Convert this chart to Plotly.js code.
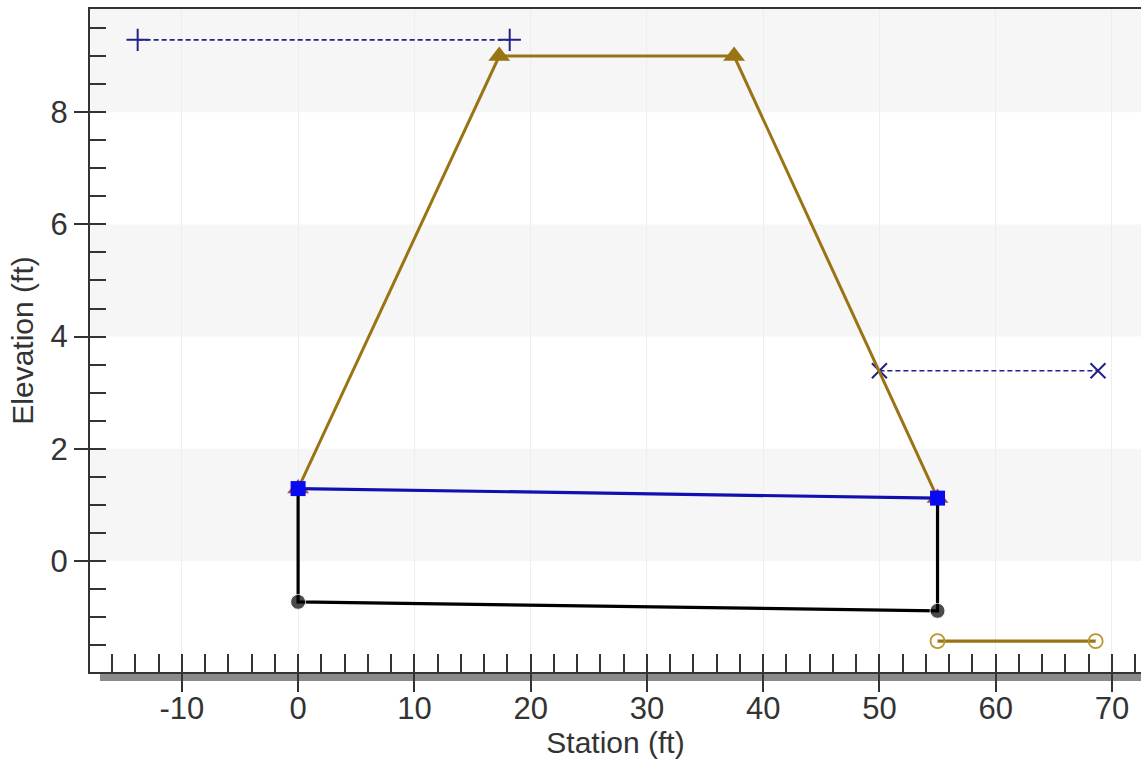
<!DOCTYPE html>
<html>
<head>
<meta charset="utf-8">
<script src="https://cdn.plot.ly/plotly-3.0.1.min.js"></script>
<style>html,body{margin:0;padding:0;background:#fff}#chart{width:1141px;height:762px}</style>
</head>
<body>
<div id="chart"></div>
<script>
// Data
const leftLeveeX = [-13.8, 18.2];
const leftLeveeY = [9.29, 9.29];
const rightLeveeX = [50, 68.8];
const rightLeveeY = [3.39, 3.39];
const embankX = [0, 17.3, 37.5, 55];
const embankY = [1.29, 9.0, 9.0, 1.12];
const culvertTopX = [0, 55];
const culvertTopY = [1.29, 1.12];
const culvertX = [0, 0, 55, 55];
const culvertY = [1.29, -0.73, -0.89, 1.12];
const outletX = [55, 68.6];
const outletY = [-1.43, -1.43];
const bandEdges = [[8, 9.84], [4, 6], [0, 2]];

const xTickVals = [-10, 0, 10, 20, 30, 40, 50, 60, 70];
const xTickText = ['-10', '0', '10', '20', '30', '40', '50', '60', '70'];
const yTickVals = [0, 2, 4, 6, 8];
const yTickText = ['0', '2', '4', '6', '8'];

const xRange = [-17.9, 72.5];
const yRange = [-1.98, 9.84];

const navy = '#22228a';
const brown = '#9a7414';

const traces = [
  {x: leftLeveeX, y: leftLeveeY, mode: 'lines+markers', line: {color: navy, width: 1.6, dash: '5px,3px'},
   marker: {symbol: 'cross-thin-open', size: 16, line: {color: navy, width: 2}}},
  {x: rightLeveeX, y: rightLeveeY, mode: 'lines+markers', line: {color: navy, width: 1.6, dash: '5px,3px'},
   marker: {symbol: 'x-thin-open', size: 15, line: {color: navy, width: 2}}},
  {x: embankX, y: embankY, mode: 'lines+markers', line: {color: brown, width: 3},
   marker: {symbol: 'triangle-up', size: 19, color: ['#b24a3a', brown, brown, '#b24a3a']}},
  {x: culvertX, y: culvertY, mode: 'lines+markers', line: {color: '#000', width: 3.2},
   marker: {symbol: 'circle', size: [0, 15, 15, 0], color: '#000'}},
  {x: culvertTopX, y: culvertTopY, mode: 'lines+markers', line: {color: '#1010b0', width: 3.2},
   marker: {symbol: 'square', size: 15, color: '#0a0af0'}},
  {x: outletX, y: outletY, mode: 'lines+markers', line: {color: brown, width: 3.4},
   marker: {symbol: 'circle-open', size: 14, color: '#b8962a', line: {width: 1.8, color: '#b8962a'}}}
];

const shapes = bandEdges.map(b => ({type: 'rect', xref: 'paper', x0: 0, x1: 1, yref: 'y', y0: b[0], y1: b[1],
  fillcolor: '#f6f6f6', line: {width: 0}, layer: 'below'}));
shapes.push({type: 'rect', xref: 'paper', x0: 0.0095, x1: 1.02, yref: 'paper', y0: -0.0136, y1: 0,
  fillcolor: '#8a8a8a', line: {width: 0}, layer: 'below'});

const fam = 'Liberation Sans, Arial, sans-serif';

const layout = {
  width: 1141, height: 762,
  margin: {l: 90, r: 0, t: 9, b: 90},
  showlegend: false,
  paper_bgcolor: '#fff', plot_bgcolor: '#fff',
  font: {family: fam, size: 31, color: '#333'},
  shapes: shapes,
  xaxis: {
    range: xRange, tickmode: 'array', tickvals: xTickVals, ticktext: xTickText,
    ticks: 'outside', ticklen: 18, tickwidth: 2, tickcolor: '#333',
    showline: true, linecolor: '#333', linewidth: 2, mirror: true,
    showgrid: true, gridcolor: '#eeeeee', gridwidth: 1, zeroline: false,
    minor: {dtick: 2, tick0: 0, ticks: 'inside', ticklen: 18, tickwidth: 2, tickcolor: '#333', showgrid: false},
    tickfont: {family: fam, size: 31, color: '#333'},
    ticklabelstandoff: -10,
    title: {text: 'Station (ft)', font: {family: fam, size: 30, color: '#333'}, standoff: 0}
  },
  yaxis: {
    range: yRange, tickmode: 'array', tickvals: yTickVals, ticktext: yTickText,
    ticks: 'outside', ticklen: 14, tickwidth: 2, tickcolor: '#333',
    showline: true, linecolor: '#333', linewidth: 2,
    showgrid: false, zeroline: false,
    minor: {dtick: 0.5, tick0: 0, ticks: 'inside', ticklen: 16, tickwidth: 2, tickcolor: '#333', showgrid: false},
    tickfont: {family: fam, size: 31, color: '#333'},
    title: {text: 'Elevation (ft)', font: {family: fam, size: 30, color: '#333'}, standoff: 8}
  }
};

Plotly.newPlot('chart', traces, layout, {displayModeBar: false, staticPlot: true});
</script>
</body>
</html>
